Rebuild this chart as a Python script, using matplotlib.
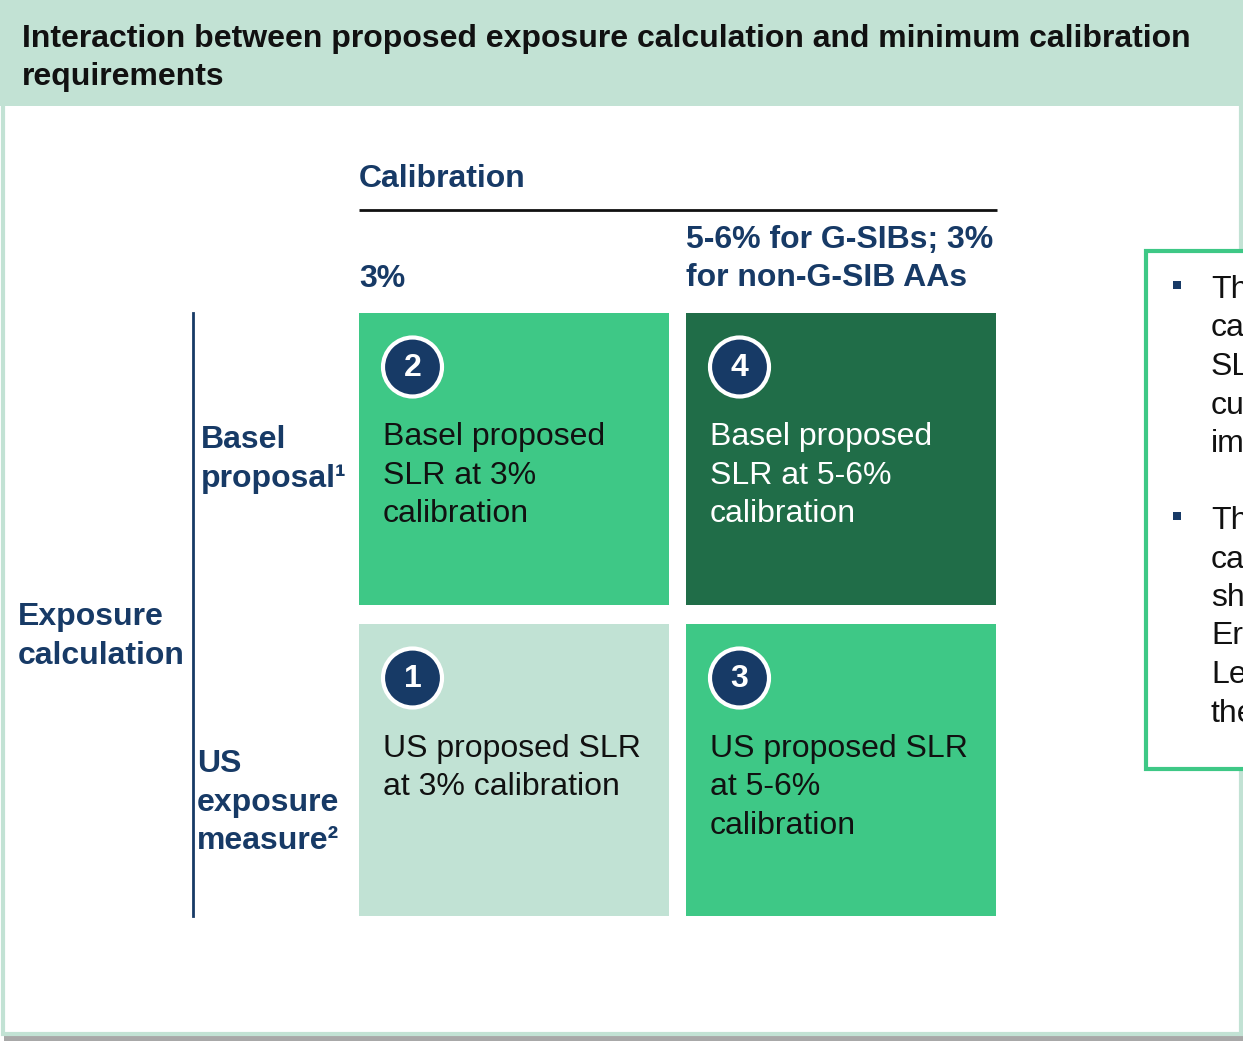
import matplotlib
matplotlib.use("Agg")
import matplotlib.pyplot as plt
from matplotlib.patches import Rectangle, Circle

# ---------------- data ----------------
title_lines = ["Interaction between proposed exposure calculation and minimum calibration",
               "requirements"]
col_header = "Calibration"
col_labels = [["3%"], ["5-6% for G-SIBs; 3%", "for non-G-SIB AAs"]]
row_header = ["Exposure", "calculation"]
row_labels = [["Basel", "proposal¹"], ["US", "exposure", "measure²"]]
cell_numbers = [[2, 4], [1, 3]]
cell_texts = [[["Basel proposed", "SLR at 3%", "calibration"],
               ["Basel proposed", "SLR at 5-6%", "calibration"]],
              [["US proposed SLR", "at 3% calibration"],
               ["US proposed SLR", "at 5-6%", "calibration"]]]
cell_colors = [["#3ec886", "#206d48"], ["#c1e2d4", "#3ec886"]]
cell_text_colors = [["#111111", "#ffffff"], ["#111111", "#111111"]]
# side panel text, cut by the right edge of the reference (only fragments visible)
side_bullets = [["Th", "ca", "SL", "cu", "im"],
                ["Th", "ca", "sh", "Er", "Le", "the"]]

NAVY = "#173a66"
LIGHT = "#c2e2d4"
GREEN = "#3ec886"
FONT = "Liberation Sans"
FS = 23
LS = 38.5  # line step in px

# ---------------- figure ----------------
W, H = 1243, 1042
fig = plt.figure(figsize=(W / 100, H / 100), dpi=100)
ax = fig.add_axes([0, 0, 1, 1])
ax.set_xlim(0, W)
ax.set_ylim(H, 0)
ax.axis("off")


def lines_at(x, y_base, lines, **kw):
    for n, line in enumerate(lines):
        ax.text(x, y_base + n * LS, line, fontsize=FS, family=FONT, ha="left",
                va="baseline", zorder=5, **kw)


# frame, header band, shadow
ax.add_patch(Rectangle((4, 1036), W - 4, 5, facecolor="#a8a8a8", edgecolor="none", zorder=0))
ax.add_patch(Rectangle((3, 0), W - 5, 1034, facecolor="white", edgecolor=LIGHT, lw=3, zorder=1))
ax.add_patch(Rectangle((0, 0), W, 106, facecolor=LIGHT, edgecolor="none", zorder=2))
lines_at(22, 47, title_lines, fontweight="bold", color="#111111")

# grid geometry
x0s = [359, 686]
y0s = [313, 624]
cw, ch = 310, 292

# column header
ax.text(359, 187, col_header, fontsize=FS, fontweight="bold", family=FONT, color=NAVY,
        va="baseline", ha="left", zorder=3)
ax.plot([359, 997], [209.5, 209.5], color="#111111", lw=2, zorder=3, solid_capstyle="butt")
col_label_base = [287, 248]
for j, lab in enumerate(col_labels):
    lines_at(x0s[j], col_label_base[j], lab, fontweight="bold", color=NAVY)

# row header + vertical line
ax.plot([193, 193], [313, 916], color=NAVY, lw=2, zorder=3)
lines_at(18, 625, row_header, fontweight="bold", color=NAVY)
row_label_pos = [(201, 448), (197, 772)]
for i, lab in enumerate(row_labels):
    x, y = row_label_pos[i]
    lines_at(x, y, lab, fontweight="bold", color=NAVY)

# cells
for i in range(2):
    for j in range(2):
        x, y = x0s[j], y0s[i]
        ax.add_patch(Rectangle((x, y), cw, ch, facecolor=cell_colors[i][j], edgecolor="none", zorder=3))
        cx, cy = x + 53.5, y + 54
        ax.add_patch(Circle((cx, cy), 29.5, facecolor=NAVY, edgecolor="white", lw=3, zorder=4))
        ax.text(cx, cy + 1, str(cell_numbers[i][j]), fontsize=FS, fontweight="bold", family=FONT,
                color="white", ha="center", va="center", zorder=5)
        lines_at(x + 24, y + 132.5, cell_texts[i][j], color=cell_text_colors[i][j])

# right side box (cut by the figure edge)
ax.add_patch(Rectangle((1146, 251), 200, 518, facecolor="white", edgecolor=GREEN, lw=3, zorder=3,
                       clip_on=False))
starts = [298, 529]
for k, lines in enumerate(side_bullets):
    ax.add_patch(Rectangle((1173.5, starts[k] - 17), 8, 8, facecolor=NAVY, edgecolor="none", zorder=4))
    lines_at(1211, starts[k], lines, color="#111111")

fig.savefig("out.png", dpi=100)
